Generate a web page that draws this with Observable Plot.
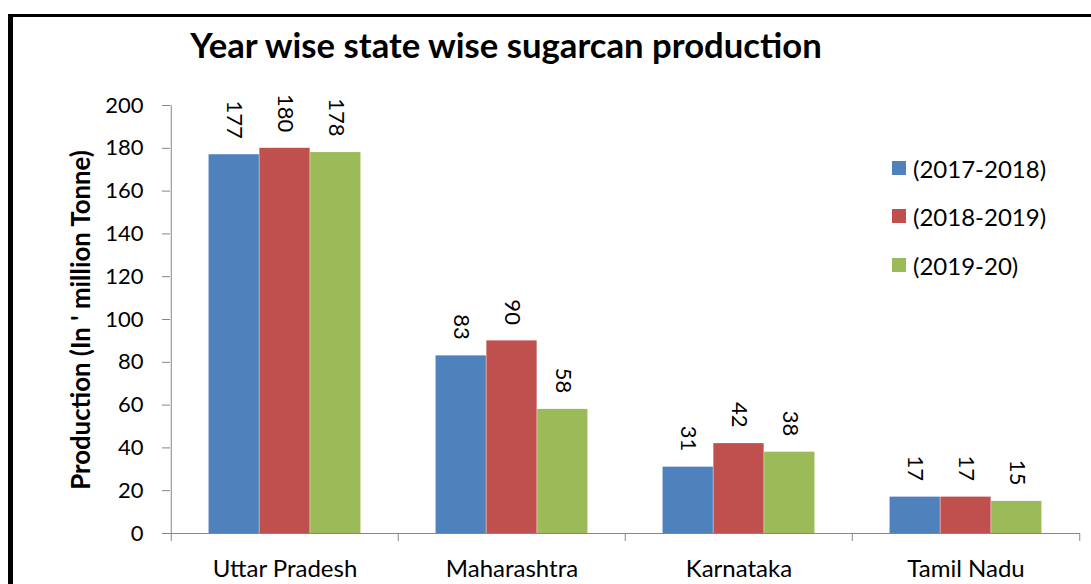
<!DOCTYPE html>
<html>
<head>
<meta charset="utf-8">
<script src="https://cdn.jsdelivr.net/npm/d3@7"></script>
<script src="https://cdn.jsdelivr.net/npm/@observablehq/plot@0.6"></script>
<style>
  html, body { margin: 0; padding: 0; background: #fff; }
  body { width: 1091px; height: 584px; overflow: hidden; position: relative; font-family: Lato, "Open Sans", sans-serif; }
  #frame { position: absolute; left: 8px; top: 14px; width: 1300px; height: 800px; border-left: 5px solid #000; border-top: 3px solid #000; box-sizing: border-box; }
  #chart { position: absolute; left: 0; top: 0; }
  #title { position: absolute; top: 24px; left: 0; white-space: nowrap; font-weight: bold; font-size: 30px; color: #000; }
  #ytitle { position: absolute; white-space: nowrap; font-weight: bold; font-size: 20px; color: #000; transform-origin: center center; }
  #legend { position: absolute; left: 892px; top: 0; }
  .item { position: absolute; left: 0; white-space: nowrap; display: flex; align-items: center; font-size: 24px; color: #000; }
  .sw { width: 14px; height: 14px; margin-right: 7px; }
</style>
</head>
<body>
<div id="frame"></div>
<div id="chart"></div>
<div id="title">Year wise state wise sugarcan production</div>
<div id="ytitle">Production (In ' million Tonne)</div>
<div id="legend"></div>
<script>
const states = ["Uttar Pradesh", "Maharashtra", "Karnataka", "Tamil Nadu"];
const series = ["(2017-2018)", "(2018-2019)", "(2019-20)"];
const v2017_18 = [177, 83, 31, 17];
const v2018_19 = [180, 90, 42, 17];
const v2019_20 = [178, 58, 38, 15];
const colors = ["#4F81BD", "#C0504D", "#9BBB59"];
const yTicks = [0, 20, 40, 60, 80, 100, 120, 140, 160, 180, 200];

const seriesValues = [v2017_18, v2018_19, v2019_20];
const data = states.flatMap((s, i) => series.map((k, j) => ({state: s, series: k, j, value: seriesValues[j][i]})));

const W = 1091, H = 584;
const mL = 170, mR = 11, mT = 105, mB = 51;
const bw = (W - mL - mR) / states.length;
const barW = 50.8;
const gap = (bw - 3 * barW) / 2;
const unitsPerPx = 200 / (H - mT - mB);
const tickLen = 8 * unitsPerPx;
const axisGrey = "#868686";

const marks = [];
series.forEach((k, j) => {
  const sub = data.filter(d => d.j === j);
  marks.push(Plot.barY(sub, {x: "state", y: "value", fill: colors[j], insetLeft: gap + j * barW, insetRight: gap + (2 - j) * barW}));
  marks.push(Plot.text(sub, {x: "state", y: "value", text: d => String(d.value), rotate: 90, textAnchor: "end", lineAnchor: "middle", dx: (j - 1) * barW, dy: -16, fontSize: 22, fill: "#000"}));
});
// y axis line at left edge, category boundary ticks, x axis line
marks.push(Plot.ruleX([states[0]], {x: d => d, dx: -bw / 2, y1: 0, y2: 200, stroke: axisGrey}));
marks.push(Plot.ruleX(states, {x: d => d, dx: -bw / 2, y1: 0, y2: -tickLen, stroke: axisGrey}));
marks.push(Plot.ruleX([states[states.length - 1]], {x: d => d, dx: bw / 2, y1: 0, y2: -tickLen, stroke: axisGrey}));
marks.push(Plot.ruleY([0], {stroke: axisGrey}));
marks.push(Plot.axisY({ticks: yTicks, tickSize: 8, tickPadding: 19, fontSize: 22, stroke: axisGrey, fill: "#000", label: null}));
marks.push(Plot.axisX({tickSize: 0, tickPadding: 26, fontSize: 24, fill: "#000", label: null}));

const chart = Plot.plot({
  width: W, height: H,
  marginLeft: mL, marginRight: mR, marginTop: mT, marginBottom: mB,
  x: {domain: states, padding: 0, axis: null},
  y: {domain: [0, 200], axis: null},
  style: {fontFamily: "Lato, 'Open Sans', sans-serif", fontSize: "22px", background: "transparent", color: "#000"},
  marks
});
document.getElementById("chart").appendChild(chart);

// legend
const legend = document.getElementById("legend");
const legendY = [168, 216, 265];
series.forEach((k, j) => {
  const it = document.createElement("div");
  it.className = "item";
  it.innerHTML = `<div class="sw" style="background:${colors[j]}"></div><span>${k}</span>`;
  legend.appendChild(it);
  const h = it.getBoundingClientRect().height;
  it.style.top = (legendY[j] - h / 2) + "px";
});

// fit title width
function fitWidth(el, target) {
  let fs = parseFloat(getComputedStyle(el).fontSize);
  const w = el.getBoundingClientRect().width;
  el.style.fontSize = (fs * target / w) + "px";
}
const title = document.getElementById("title");
fitWidth(title, 632);
const tw = title.getBoundingClientRect().width;
title.style.left = (506 - tw / 2) + "px";

const yt = document.getElementById("ytitle");
fitWidth(yt, 340);
const r = yt.getBoundingClientRect();
yt.style.left = (80 - r.width / 2) + "px";
yt.style.top = (320 - r.height / 2) + "px";
yt.style.transform = "rotate(-90deg)";
</script>
</body>
</html>
